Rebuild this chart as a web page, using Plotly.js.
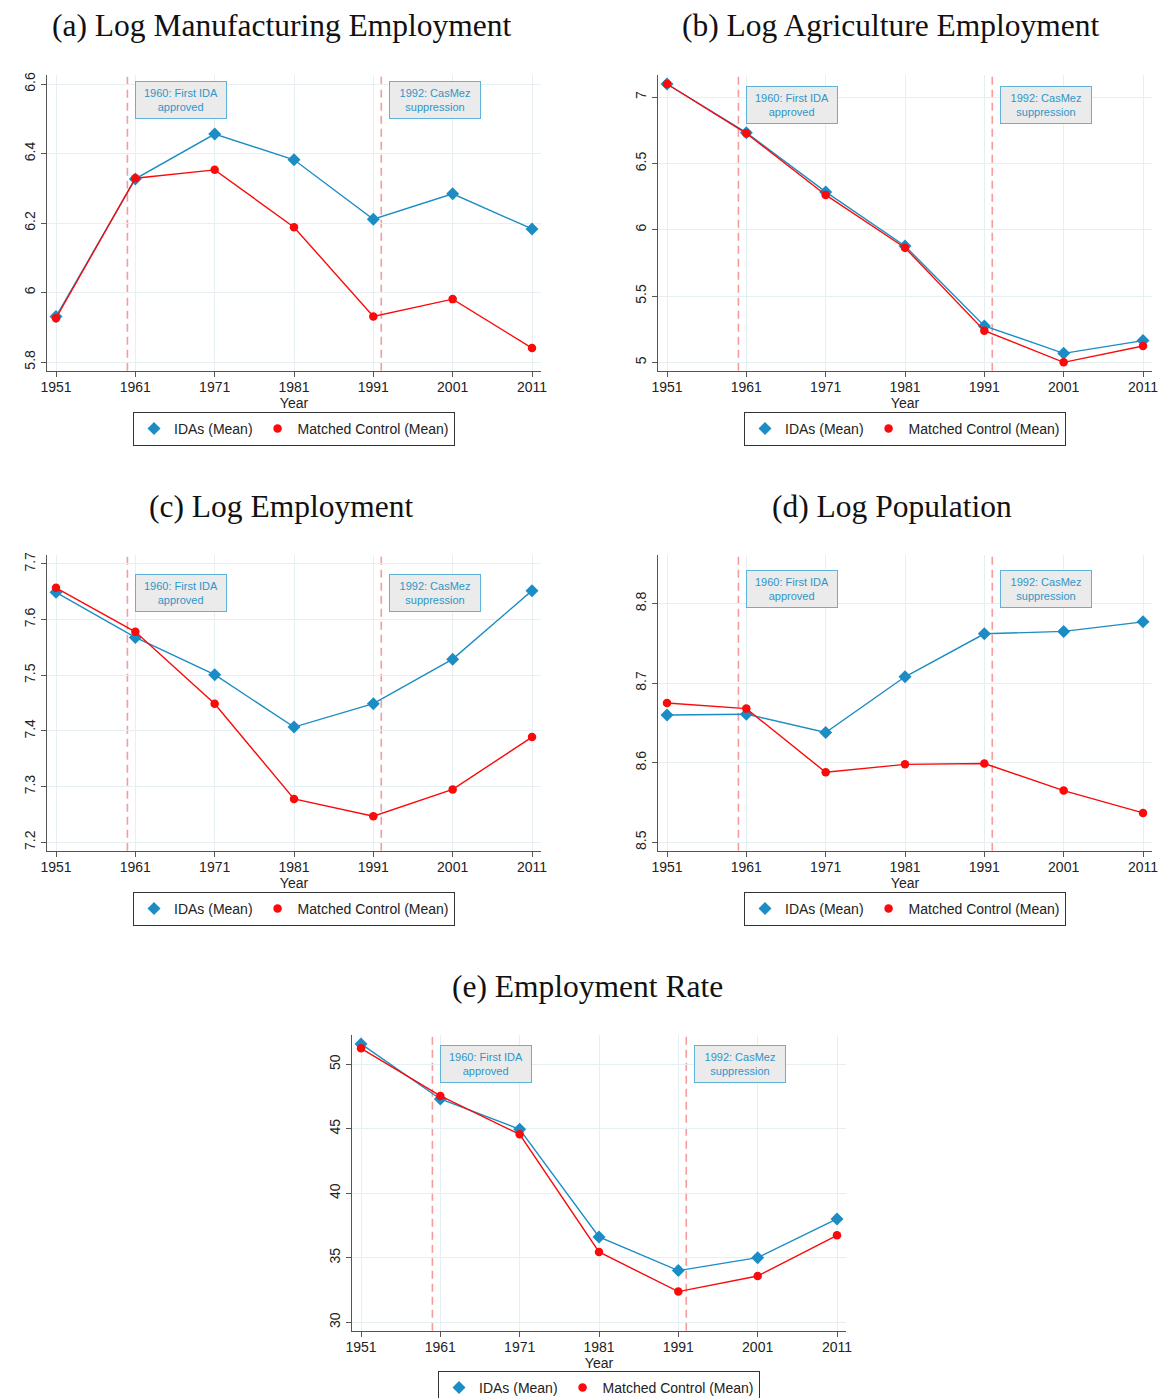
<!DOCTYPE html>
<html>
<head>
<meta charset="utf-8">
<script src="https://cdn.plot.ly/plotly-3.0.1.min.js"></script>
<style>
  html, body { margin: 0; padding: 0; background: #ffffff; overflow: hidden; }
  #chart { width: 1158px; height: 1398px; }
</style>
</head>
<body>
<div id="chart"></div>
<script>
// Census years
const years = [1951, 1961, 1971, 1981, 1991, 2001, 2011];

// Series: IDA municipalities vs. matched controls (means)
const manufIDA  = [5.931, 6.327, 6.456, 6.382, 6.211, 6.284, 6.183];
const manufCtrl = [5.926, 6.329, 6.353, 6.188, 5.931, 5.981, 5.840];

const agriIDA   = [7.100, 6.733, 6.286, 5.878, 5.275, 5.068, 5.164];
const agriCtrl  = [7.100, 6.728, 6.263, 5.865, 5.239, 5.000, 5.123];

const emplIDA   = [7.649, 7.568, 7.501, 7.407, 7.449, 7.529, 7.652];
const emplCtrl  = [7.657, 7.578, 7.449, 7.278, 7.247, 7.295, 7.389];

const popIDA    = [8.660, 8.661, 8.638, 8.708, 8.762, 8.765, 8.777];
const popCtrl   = [8.675, 8.668, 8.588, 8.598, 8.599, 8.565, 8.537];

const rateIDA   = [51.58, 47.31, 44.96, 36.62, 34.01, 35.01, 38.01];
const rateCtrl  = [51.24, 47.55, 44.57, 35.45, 32.38, 33.59, 36.74];

// Panel titles and y tick values
const panelTitles = [
  "(a) Log Manufacturing Employment",
  "(b) Log Agriculture Employment",
  "(c) Log Employment",
  "(d) Log Population",
  "(e) Employment Rate"
];
const yTicks = [
  [5.8, 6, 6.2, 6.4, 6.6],
  [5, 5.5, 6, 6.5, 7],
  [7.2, 7.3, 7.4, 7.5, 7.6, 7.7],
  [8.5, 8.6, 8.7, 8.8],
  [30, 35, 40, 45, 50]
];
const yRanges = [
  [5.775, 6.626],
  [4.937, 7.168],
  [7.185, 7.716],
  [8.4895, 8.861],
  [29.35, 52.27]
];

// Policy events (vertical markers) and their labels
const eventYears = [1960, 1992];
const eventLabels = ["1960: First IDA<br>approved", "1992: CasMez<br>suppression"];
const eventLabelX = [1966.8, 1998.8];
const eventLabelY = [6.554, 6.94, 7.648, 8.818, 50];

const seriesIDA  = [manufIDA, agriIDA, emplIDA, popIDA, rateIDA];
const seriesCtrl = [manufCtrl, agriCtrl, emplCtrl, popCtrl, rateCtrl];

const W = 1158, H = 1398;
const BLUE = "#1b8dc4";
const RED = "#fa0a0a";
const GRID = "#e6eff1";
const AXIS = "#555555";

// Panel boxes in pixels: [left, right, top, bottom]
const boxes = [
  [47, 541, 75, 370.7],
  [658, 1152, 75, 370.7],
  [47, 541, 555, 850.7],
  [658, 1152, 555, 850.7],
  [352, 846, 1035, 1330.7]
];
const titleCenters = [[281, 26], [891, 26], [281, 506], [892, 506], [587, 986]];
const legendTops = [412, 412, 892, 892, 1371];

const data = [];
const layout = {
  width: W, height: H,
  margin: {l: 0, r: 0, t: 0, b: 0, autoexpand: false},
  paper_bgcolor: "#ffffff",
  plot_bgcolor: "#ffffff",
  font: {family: "Liberation Sans, Arial, sans-serif", size: 14, color: "#222222"},
  annotations: [],
  shapes: []
};

for (let i = 0; i < 5; i++) {
  const n = i === 0 ? "" : String(i + 1);
  const xa = "x" + n, ya = "y" + n;
  const legName = i === 0 ? "legend" : "legend" + (i + 1);
  const [L, R, T, B] = boxes[i];

  const groups = [
    {y: seriesIDA[i], name: "IDAs (Mean)", color: BLUE, symbol: "diamond", size: 10},
    {y: seriesCtrl[i], name: "Matched Control (Mean)", color: RED, symbol: "circle", size: 8.5}
  ];
  groups.forEach(g => {
    // connecting line
    data.push({
      x: years, y: g.y, xaxis: xa, yaxis: ya,
      type: "scatter", mode: "lines", showlegend: false,
      legend: legName, hoverinfo: "skip",
      line: {color: g.color, width: 1.4}
    });
    // markers (also the legend entry)
    data.push({
      x: years, y: g.y, xaxis: xa, yaxis: ya,
      type: "scatter", mode: "markers", name: g.name,
      legend: legName,
      marker: {symbol: g.symbol, size: g.size, color: g.color}
    });
  });

  layout["xaxis" + n] = {
    domain: [L / W, R / W],
    anchor: ya,
    range: [1949.865, 2012.135],
    tickmode: "array",
    tickvals: years,
    ticks: "outside", ticklen: 5, tickcolor: AXIS, tickwidth: 1,
    ticklabelstandoff: -2,
    ticklabeloverflow: "allow",
    showline: true, linecolor: AXIS, linewidth: 1.2,
    showgrid: true, gridcolor: GRID, gridwidth: 1,
    zeroline: false,
    tickfont: {size: 14, color: "#222222"},
    title: {text: "Year", font: {size: 14, color: "#222222"}, standoff: 0}
  };
  layout["yaxis" + n] = {
    domain: [(H - B) / H, (H - T) / H],
    anchor: xa,
    range: yRanges[i],
    tickmode: "array",
    tickvals: yTicks[i],
    tickangle: -90,
    ticks: "outside", ticklen: 5, tickcolor: AXIS, tickwidth: 1,
    ticklabeloverflow: "allow",
    showline: true, linecolor: AXIS, linewidth: 1.2,
    showgrid: true, gridcolor: GRID, gridwidth: 1,
    zeroline: false,
    tickfont: {size: 14, color: "#222222"}
  };

  layout[legName] = {
    orientation: "h",
    x: ((L + R) / 2) / W, xanchor: "center",
    y: (H - legendTops[i]) / H, yanchor: "top",
    bordercolor: "#333333", borderwidth: 1,
    bgcolor: "#ffffff",
    font: {size: 14, color: "#222222"},
    itemwidth: 30,
    tracegroupgap: 0
  };

  // Vertical dashed event lines
  eventYears.forEach(ev => {
    layout.shapes.push({
      type: "line", xref: xa, yref: ya + " domain",
      x0: ev, x1: ev, y0: 0, y1: 1,
      line: {color: "#f59c9c", width: 1.6, dash: "8px,5px"},
      layer: "below"
    });
  });

  // Event label boxes
  eventLabels.forEach((txt, k) => {
    layout.annotations.push({
      xref: xa, yref: ya,
      x: eventLabelX[k], y: eventLabelY[i],
      xanchor: "center", yanchor: "middle",
      text: txt, showarrow: false,
      font: {size: 11, color: "#2f96c8"},
      align: "center",
      bgcolor: "#ebebeb",
      bordercolor: "#5fb3d9", borderwidth: 1, borderpad: 2,
      width: 86, height: 32
    });
  });

  // Panel title
  layout.annotations.push({
    xref: "paper", yref: "paper",
    x: titleCenters[i][0] / W, y: (H - titleCenters[i][1]) / H,
    xanchor: "center", yanchor: "middle",
    text: panelTitles[i], showarrow: false,
    font: {family: "Liberation Serif, Times New Roman, serif", size: 31.5, color: "#111111"}
  });
}

Plotly.newPlot("chart", data, layout, {displayModeBar: false, staticPlot: true});
</script>
</body>
</html>
